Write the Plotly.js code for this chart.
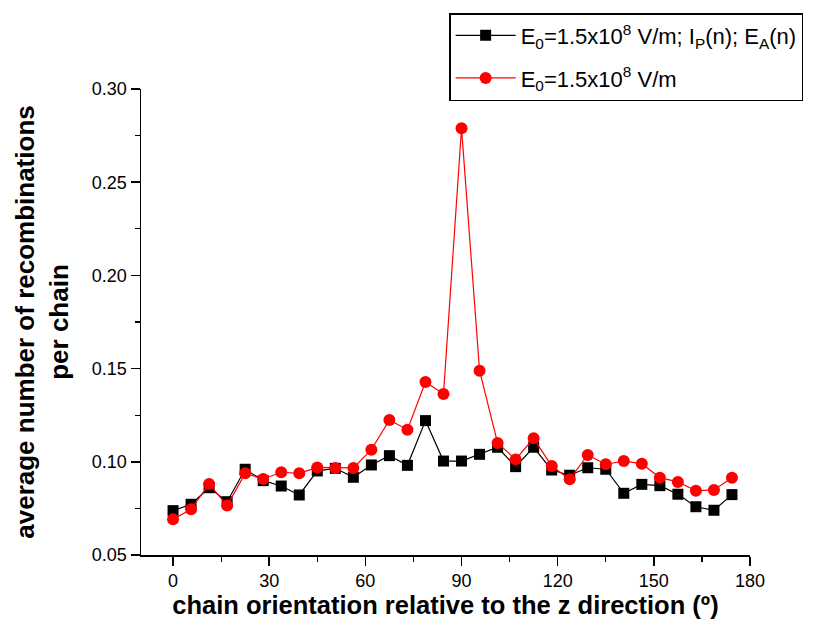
<!DOCTYPE html>
<html>
<head>
<meta charset="utf-8">
<script src="https://cdn.plot.ly/plotly-3.0.1.min.js"></script>
<style>html,body{margin:0;padding:0;background:#fff;}#chart{width:835px;height:621px;}</style>
</head>
<body>
<div id="chart"></div>
<script>
// Chain orientation angles (degrees)
const angles = [0, 5.625, 11.25, 16.875, 22.5, 28.125, 33.75, 39.375, 45, 50.625,
  56.25, 61.875, 67.5, 73.125, 78.75, 84.375, 90, 95.625, 101.25, 106.875,
  112.5, 118.125, 123.75, 129.375, 135, 140.625, 146.25, 151.875, 157.5, 163.125,
  168.75, 174.375];

// E0=1.5x10^8 V/m; IP(n); EA(n)
const blackSeries = [0.0738, 0.0772, 0.0861, 0.0786, 0.0960, 0.0899, 0.0870, 0.0822, 0.0951, 0.0965,
  0.0917, 0.0983, 0.1033, 0.0981, 0.1221, 0.1004, 0.1004, 0.1040, 0.1078, 0.0974,
  0.1078, 0.0956, 0.0928, 0.0968, 0.0960, 0.0831, 0.0879, 0.0872, 0.0826, 0.0759,
  0.0740, 0.0824];

// E0=1.5x10^8 V/m
const redSeries = [0.0692, 0.0745, 0.0881, 0.0765, 0.0938, 0.0908, 0.0944, 0.0938, 0.0970, 0.0967,
  0.0967, 0.1065, 0.1224, 0.1172, 0.1428, 0.1364, 0.2789, 0.1489, 0.1101, 0.1013,
  0.1126, 0.0977, 0.0906, 0.1037, 0.0987, 0.1004, 0.0990, 0.0915, 0.0892, 0.0845,
  0.0849, 0.0915];

const blackName = 'E<sub>0</sub>=1.5x10<sup>8</sup> V/m; I<sub>P</sub>(n); E<sub>A</sub>(n)';
const redName = 'E<sub>0</sub>=1.5x10<sup>8</sup> V/m';

const xTicks = [0, 30, 60, 90, 120, 150, 180];
const yTicks = [0.05, 0.10, 0.15, 0.20, 0.25, 0.30];

const font = 'Liberation Sans, Arial, sans-serif';

const traces = [
  {
    x: angles, y: blackSeries, name: blackName, type: 'scatter', mode: 'lines+markers',
    legendgroup: 'a',
    line: {color: '#000000', width: 1.2},
    marker: {symbol: 'square', size: 11, color: '#000000'}
  },
  {
    x: angles, y: redSeries, name: redName, type: 'scatter', mode: 'lines+markers',
    legendgroup: 'b',
    line: {color: '#ff0000', width: 1.2},
    marker: {symbol: 'circle', size: 12, color: '#ff0000'}
  }
];

const layout = {
  width: 835, height: 621,
  margin: {l: 141, r: 85, t: 89, b: 66, pad: 0},
  paper_bgcolor: '#ffffff', plot_bgcolor: '#ffffff',
  font: {family: font, color: '#000000', size: 18},
  showlegend: true,
  legend: {
    x: 0.506, xanchor: 'left', y: 1.163, yanchor: 'top',
    bordercolor: '#000000', borderwidth: 1.5, bgcolor: '#ffffff',
    font: {family: font, size: 22, color: '#000000'},
    tracegroupgap: 11, itemwidth: 60
  },
  xaxis: {
    range: [-10, 180], tickvals: xTicks, ticktext: xTicks.map(String),
    showgrid: false, zeroline: false, showline: true, linecolor: '#000000', linewidth: 1.5,
    ticks: 'outside', ticklen: 9, tickwidth: 1.5, tickcolor: '#000000',
    minor: {dtick: 15, tick0: 0, ticks: 'outside', ticklen: 5, tickwidth: 1.2, tickcolor: '#000000', showgrid: false},
    tickfont: {family: font, size: 18},
    title: {text: 'chain orientation relative to the z direction (º)', font: {family: font, size: 25.5, weight: 'bold'}, standoff: 5},
    mirror: false
  },
  yaxis: {
    range: [0.05, 0.30], tickvals: yTicks, ticktext: yTicks.map(v => v.toFixed(2)),
    showgrid: false, zeroline: false, showline: true, linecolor: '#000000', linewidth: 1.5,
    ticks: 'outside', ticklen: 9, tickwidth: 1.5, tickcolor: '#000000',
    minor: {dtick: 0.025, tick0: 0.05, ticks: 'outside', ticklen: 5, tickwidth: 1.2, tickcolor: '#000000', showgrid: false},
    tickfont: {family: font, size: 18},
    title: {text: 'average number of recombinations<br>per chain', font: {family: font, size: 26, weight: 'bold'}, standoff: 16},
    mirror: false
  }
};

Plotly.newPlot('chart', traces, layout, {displayModeBar: false, staticPlot: true});
</script>
</body>
</html>
